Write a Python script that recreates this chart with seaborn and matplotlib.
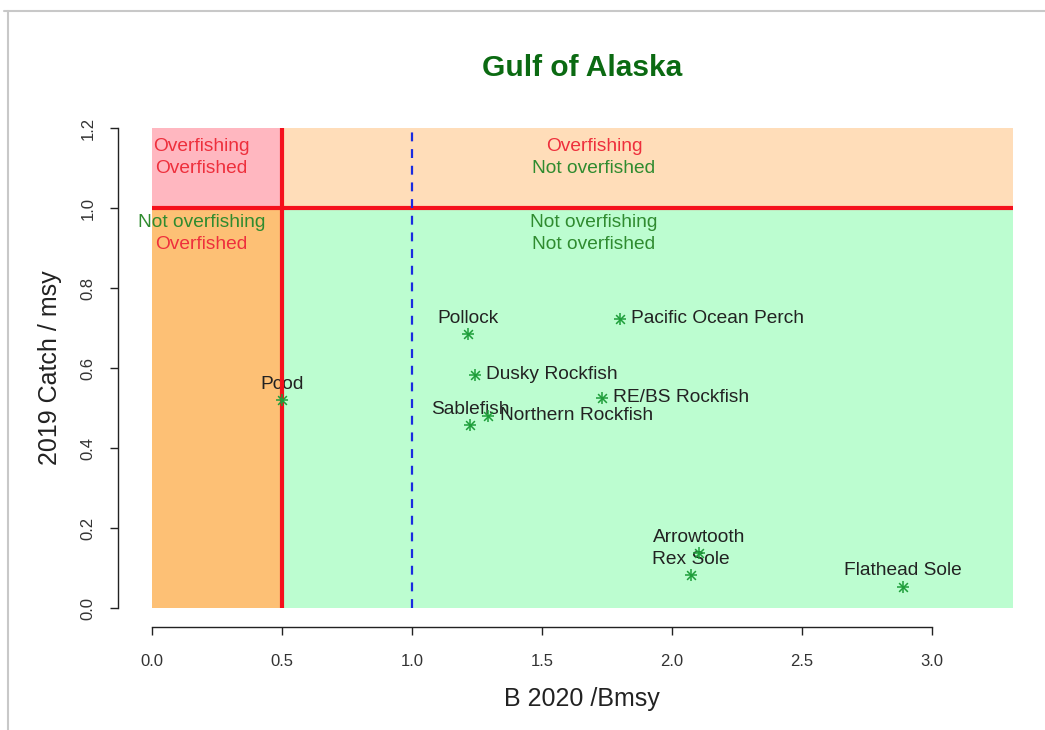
import matplotlib
matplotlib.use("Agg")
import matplotlib.pyplot as plt
import seaborn as sns
import pandas as pd
from matplotlib.lines import Line2D
from matplotlib.patches import Rectangle

# ---- data ----
species = ["Pcod", "Pollock", "Pacific Ocean Perch", "Dusky Rockfish", "RE/BS Rockfish",
           "Sablefish", "Northern Rockfish", "Arrowtooth", "Rex Sole", "Flathead Sole"]
b_bmsy = [0.50, 1.217, 1.80, 1.242, 1.732, 1.223, 1.294, 2.105, 2.073, 2.887]
c_msy = [0.52, 0.685, 0.722, 0.5825, 0.524, 0.4575, 0.48, 0.137, 0.0825, 0.053]
label_pos = ["above", "above", "right", "right", "right",
             "above", "right", "above", "above", "above"]
x_ticks = [0.0, 0.5, 1.0, 1.5, 2.0, 2.5, 3.0]
y_ticks = [0.0, 0.2, 0.4, 0.6, 0.8, 1.0, 1.2]
x_max = 3.31
y_max = 1.2
b_limit = 0.5
b_target = 1.0
f_limit = 1.0

df = pd.DataFrame({"species": species, "B": b_bmsy, "C": c_msy, "pos": label_pos})

sns.set_style("white")
plt.rcParams["font.family"] = ["Liberation Sans", "DejaVu Sans"]

W, H = 1045, 730
fig = plt.figure(figsize=(W / 100, H / 100), dpi=100)

# axes placement (pixel based)
left_px, right_px, top_px, bot_px = 117.6, 1047.0, 109.0, 627.2
ax = fig.add_axes([left_px / W, 1 - bot_px / H, (right_px - left_px) / W, (bot_px - top_px) / H])
ax.set_xlim(-0.04 * x_max, x_max * 1.04)
ax.set_ylim(-0.04 * y_max, y_max * 1.04)
ax.patch.set_alpha(0)

# regions
ax.add_patch(Rectangle((0, f_limit), b_limit, y_max - f_limit, color="#FFB7C0", lw=0, zorder=0))
ax.add_patch(Rectangle((b_limit, f_limit), x_max - b_limit, y_max - f_limit, color="#FFDDB9", lw=0, zorder=0))
ax.add_patch(Rectangle((0, 0), b_limit, f_limit, color="#FDC075", lw=0, zorder=0))
ax.add_patch(Rectangle((b_limit, 0), x_max - b_limit, f_limit, color="#BCFDD0", lw=0, zorder=0))

# region texts
red = "#EE2F3C"
grn = "#2F8B2F"
fs_r = 13.8
ax.text(0.19, 1.155, "Overfishing", color=red, fontsize=fs_r, ha="center", va="center", zorder=1)
ax.text(0.19, 1.10, "Overfished", color=red, fontsize=fs_r, ha="center", va="center", zorder=1)
ax.text(0.19, 0.965, "Not overfishing", color=grn, fontsize=fs_r, ha="center", va="center", zorder=1)
ax.text(0.19, 0.91, "Overfished", color=red, fontsize=fs_r, ha="center", va="center", zorder=1)
ax.text(1.70, 1.155, "Overfishing", color=red, fontsize=fs_r, ha="center", va="center", zorder=1)
ax.text(1.70, 1.10, "Not overfished", color=grn, fontsize=fs_r, ha="center", va="center", zorder=1)
ax.text(1.70, 0.965, "Not overfishing", color=grn, fontsize=fs_r, ha="center", va="center", zorder=1)
ax.text(1.70, 0.91, "Not overfished", color=grn, fontsize=fs_r, ha="center", va="center", zorder=1)

# point labels (drawn beneath lines and points, as in the original)
for _, r in df.iterrows():
    if r["pos"] == "above":
        ax.annotate(r["species"], (r["B"], r["C"]), xytext=(0, 11.5), textcoords="offset points",
                    ha="center", va="center", fontsize=13.8, color="#222222", zorder=1)
    else:
        ax.annotate(r["species"], (r["B"], r["C"]), xytext=(8, 0.5), textcoords="offset points",
                    ha="left", va="center", fontsize=13.8, color="#222222", zorder=1)

# reference lines
ax.plot([0, x_max], [f_limit, f_limit], color="#F5101C", lw=3.0, zorder=2, solid_capstyle="butt")
ax.plot([b_limit, b_limit], [0, y_max], color="#F5101C", lw=3.0, zorder=2, solid_capstyle="butt")
ax.plot([b_target, b_target], [0, y_max], color="#1A2BE0", lw=1.6, ls=(0, (4, 3.5)), zorder=2)

# points (R pch=8 asterisk: + overlaid with x)
star_col = "#1E9E3A"
sns.scatterplot(data=df, x="B", y="C", marker="+", s=80, color=star_col, linewidth=1.1, ax=ax, zorder=3)
sns.scatterplot(data=df, x="B", y="C", marker="x", s=40, color=star_col, linewidth=1.1, ax=ax, zorder=3)

# axes styling (R base look)
for s in ["top", "right"]:
    ax.spines[s].set_visible(False)
ax.spines["left"].set_bounds(0, 1.2)
ax.spines["bottom"].set_bounds(0, 3.0)
for s in ["left", "bottom"]:
    ax.spines[s].set_color("#222222")
    ax.spines[s].set_linewidth(1.0)
ax.set_xticks(x_ticks)
ax.set_yticks(y_ticks)
ax.set_xticklabels([f"{v:.1f}" for v in x_ticks])
ax.set_yticklabels([f"{v:.1f}" for v in y_ticks], rotation=90, va="center")
ax.tick_params(axis="both", direction="out", length=6, width=1.0, color="#222222",
               labelsize=12, labelcolor="#333333", bottom=True, left=True)
ax.tick_params(axis="x", pad=13)
ax.tick_params(axis="y", pad=10)
ax.set_xlabel("B 2020 /Bmsy", fontsize=18, color="#222222", labelpad=13)
ax.set_ylabel("2019 Catch / msy", fontsize=18, color="#222222", labelpad=13)
ax.set_title("Gulf of Alaska", fontsize=21.5, fontweight="bold", color="#0B6A12", pad=24)

# screenshot border lines
fig.add_artist(Line2D([4 / W, 1.0], [1 - 10.5 / H, 1 - 10.5 / H], color="#C8C8C8", lw=1.5, transform=fig.transFigure))
fig.add_artist(Line2D([7.5 / W, 7.5 / W], [0, 1 - 10.5 / H], color="#C8C8C8", lw=1.5, transform=fig.transFigure))

fig.savefig("out.png", dpi=100, facecolor="white")
